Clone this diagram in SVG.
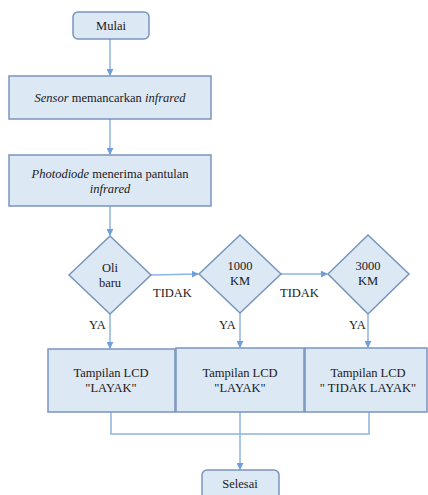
<svg xmlns="http://www.w3.org/2000/svg" width="428" height="495" viewBox="0 0 428 495">
<defs>
<marker id="ah" viewBox="0 0 8 8" refX="7" refY="4" markerWidth="7" markerHeight="7" markerUnits="userSpaceOnUse" orient="auto">
<path d="M0,0 L8,4 L0,8 z" fill="#6f9fd8"/>
</marker>
</defs>
<style>
.box{fill:#dde8f5;stroke:#7895bd;stroke-width:1.5}
.ln{fill:none;stroke:#8db4e2;stroke-width:1.5}
text{font-family:'Times New Roman','Liberation Serif','DejaVu Serif',serif;font-size:12.5px;fill:#1a1a1a}
.t{text-anchor:middle}
</style>
<rect width="428" height="495" fill="#ffffff"/>
<g id="connectors">
<path class="ln" d="M110,39 V75" marker-end="url(#ah)"/>
<path class="ln" d="M110,119 V154" marker-end="url(#ah)"/>
<path class="ln" d="M110,206 V235" marker-end="url(#ah)"/>
<path class="ln" d="M151,275 L198,274" marker-end="url(#ah)"/>
<path class="ln" d="M281,274 H327" marker-end="url(#ah)"/>
<path class="ln" d="M110,314 V348" marker-end="url(#ah)"/>
<path class="ln" d="M240,313 V347" marker-end="url(#ah)"/>
<path class="ln" d="M368,314 V347" marker-end="url(#ah)"/>
<path class="ln" d="M111,412 V434 H369 V412"/>
<path class="ln" d="M240,412 V469" marker-end="url(#ah)"/>
<text x="153" y="297">TIDAK</text>
<text x="280" y="297">TIDAK</text>
<text x="89" y="329">YA</text>
<text x="219" y="329">YA</text>
<text x="349" y="329">YA</text>
</g>
<g id="mulai">
<rect class="box" x="73" y="12" width="76" height="27" rx="5"/>
<text class="t" x="111" y="30">Mulai</text>
</g>
<g id="sensor">
<rect class="box" x="9" y="76" width="202" height="43"/>
<text class="t" x="110" y="102"><tspan font-style="italic">Sensor</tspan> memancarkan <tspan font-style="italic">infrared</tspan></text>
</g>
<g id="photodiode">
<rect class="box" x="9" y="155" width="202" height="51"/>
<text class="t" x="110" y="178"><tspan font-style="italic">Photodiode</tspan> menerima pantulan</text>
<text class="t" x="110" y="193" font-style="italic">infrared</text>
</g>
<g id="oli">
<path class="box" d="M110,236 L151,275 L110,314 L69,275 Z"/>
<text class="t" x="110" y="272">Oli</text>
<text class="t" x="110" y="287">baru</text>
</g>
<g id="km1000">
<path class="box" d="M240,235 L281,274 L240,313 L199,274 Z"/>
<text class="t" x="240" y="270">1000</text>
<text class="t" x="240" y="285">KM</text>
</g>
<g id="km3000">
<path class="box" d="M368,235 L409,274 L368,314 L328,274 Z"/>
<text class="t" x="368" y="270">3000</text>
<text class="t" x="368" y="285">KM</text>
</g>
<g id="lcd1">
<rect class="box" x="48" y="349" width="127" height="63"/>
<text class="t" x="111" y="377">Tampilan LCD</text>
<text class="t" x="111" y="392">"LAYAK"</text>
</g>
<g id="lcd2">
<rect class="box" x="176" y="348" width="128" height="64"/>
<text class="t" x="240" y="377">Tampilan LCD</text>
<text class="t" x="240" y="392">"LAYAK"</text>
</g>
<g id="lcd3">
<rect class="box" x="305" y="348" width="122" height="64"/>
<text class="t" x="368" y="377">Tampilan LCD</text>
<text class="t" x="368" y="392">" TIDAK LAYAK"</text>
</g>
<g id="selesai">
<rect class="box" x="202" y="470" width="77" height="30" rx="5"/>
<text class="t" x="240" y="488">Selesai</text>
</g>
</svg>
